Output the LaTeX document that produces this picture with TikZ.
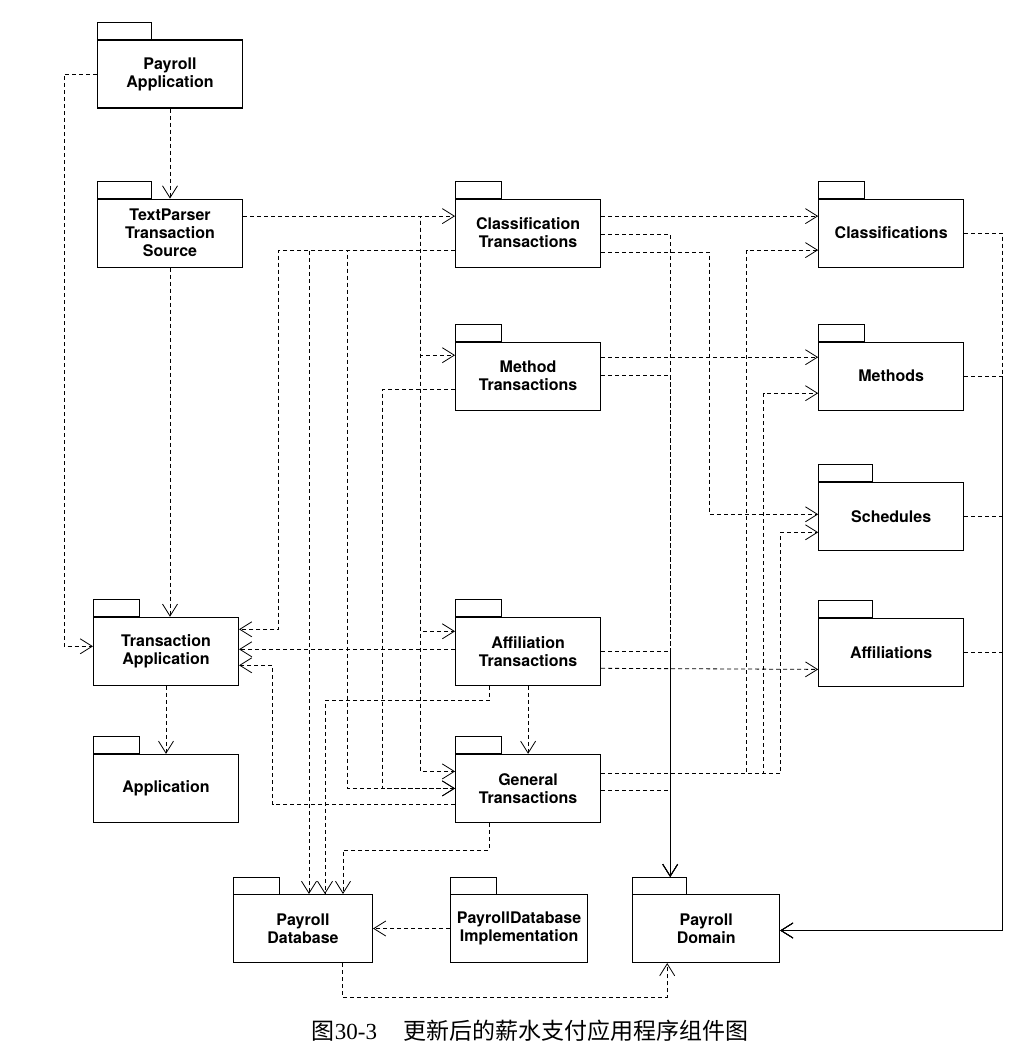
\documentclass[tikz,border=0pt]{standalone}
\usepackage{fontspec}
\setmainfont{TeX Gyre Heros}
\newfontfamily\cjk{Noto Sans CJK SC}
\newfontfamily\capserif{Liberation Serif}
\usetikzlibrary{arrows.meta, positioning}

\begin{document}
\begin{tikzpicture}[
    x=1pt, y=1pt,
    box/.style={rectangle, draw, line width=1.1pt, minimum width=145pt, minimum height=68pt, inner sep=2pt, align=center, font=\fontsize{16}{18}\selectfont\bfseries},
    pkg/.style={box, label={[draw, line width=0.9pt, minimum width=#1, minimum height=17pt, inner sep=0pt, outer sep=0pt, anchor=south west]north west:{}}},
    pkg/.default=46pt,
    dep/.style={draw, line width=0.8pt, dash pattern=on 4pt off 3pt, -{Straight Barb[length=12pt, width=15pt, line width=0.8pt]}}
]
    \path[use as bounding box] (0,0) rectangle (1025,-1053);

    \node[pkg=54pt] (pa) at (170,-74) {Payroll\\Application};
    \node[pkg=54pt, below=90pt of pa] (tps) {TextParser\\Transaction\\Source};
    \node[pkg, right=212pt of tps] (ct) {Classification\\Transactions};
    \node[pkg, right=217pt of ct] (cls) {Classifications};
    \node[pkg, below=74pt of ct] (mt) {Method\\Transactions};
    \node[pkg, below=74pt of cls] (meth) {Methods};
    \node[pkg=54pt, below=71pt of meth] (sch) {Schedules};
    \node[pkg=54pt, below=67pt of sch] (aff) {Affiliations};
    \node[pkg, below=206pt of mt] (at) {Affiliation\\Transactions};
    \node[pkg, left=216pt of at] (ta) {Transaction\\Application};
    \node[pkg, below=68pt of ta] (app) {Application};
    \node[pkg, below=68pt of at] (gt) {General\\Transactions};
    \node[pkg, minimum width=137pt, below=71pt of gt, xshift=-9pt] (pdi) {PayrollDatabase\\Implementation};
    \node[pkg, minimum width=139pt, left=77pt of pdi] (pd) {Payroll\\Database};
    \node[pkg=54pt, minimum width=147pt, right=44pt of pdi] (pdom) {Payroll\\Domain};

    % left column
    \path[dep] (pa.south) -- (tps.north);
    \path[dep] (pa.west) -- ++(-33,0) |- ([yshift=5pt]ta.west);
    \path[dep] (tps.south) -- (tps.south |- ta.north);
    \path[dep] (ta.south) -- (app.north);

    % TextParser to the transaction packages
    \path[dep] ([yshift=17pt]tps.east) -- ([yshift=17pt]ct.west);
    \path[dep] ([yshift=17pt]tps.east) -- ++(177.5,0) |- ([yshift=21pt]mt.west);
    \path[dep] ([yshift=17pt]tps.east) -- ++(177.5,0) |- ([yshift=20pt]at.west);
    \path[dep] ([yshift=17pt]tps.east) -- ++(177.5,0) |- ([yshift=17pt]gt.west);

    % transactions, left side
    \path[dep] ([yshift=-17pt]ct.west) -- ++(-176.5,0) |- ([yshift=22pt]ta.east);
    \path[dep] ([yshift=-17pt]ct.west) -| ([xshift=6pt]pd.north);
    \path[dep] ([yshift=-17pt]ct.west) -- ++(-107.5,0) |- (gt.west);
    \path[dep] ([yshift=-13pt]mt.west) -- ++(-72.5,0) |- (gt.west);
    \path[dep] ([yshift=2pt]at.west) -- ([yshift=2pt]ta.east);
    \path[dep] ([xshift=-39pt]at.south) -- ++(0,-15) -| ([xshift=22pt]pd.north);
    \path[dep] (at.south) -- (gt.north);
    \path[dep] ([yshift=-16pt]gt.west) -- ++(-182.5,0) |- ([yshift=-14pt]ta.east);
    \path[dep] ([xshift=-39pt]gt.south) -- ++(0,-27) -| ([xshift=40pt]pd.north);

    % database
    \path[dep] (pdi.west) -- (pd.east);
    \path[dep] ([xshift=39pt]pd.south) -- ++(0,-34) -| ([xshift=-39pt]pdom.south);

    % transactions, right side
    \path[dep] ([yshift=17pt]ct.east) -- ([yshift=17pt]cls.west);
    \path[dep] ([yshift=-1pt]ct.east) -| ([xshift=-36pt,yshift=17pt]pdom.north);
    \path[dep] ([yshift=-19pt]ct.east) -- ++(108.5,0) |- ([yshift=2pt]sch.west);
    \path[dep] ([yshift=19pt]mt.east) -- ([yshift=19pt]meth.west);
    \path[dep] ([yshift=1pt]mt.east) -| ([xshift=-36pt,yshift=17pt]pdom.north);
    \path[dep] (at.east) -| ([xshift=-36pt,yshift=17pt]pdom.north);
    \path[dep] ([yshift=-17pt]at.east) -- ([yshift=-17pt]aff.west);
    \path[dep] ([yshift=15pt]gt.east) -- ++(145.5,0) |- ([yshift=-17pt]cls.west);
    \path[dep] ([yshift=15pt]gt.east) -- ++(162.5,0) |- ([yshift=-17pt]meth.west);
    \path[dep] ([yshift=15pt]gt.east) -- ++(179.5,0) |- ([yshift=-16pt]sch.west);
    \path[dep] ([yshift=-2pt]gt.east) -| ([xshift=-36pt,yshift=17pt]pdom.north);

    % domain packages to Payroll Domain
    \path[dep] (cls.east) -- ++(38.5,0) |- ([yshift=-2pt]pdom.east);
    \path[dep] (meth.east) -- ++(38.5,0) |- ([yshift=-2pt]pdom.east);
    \path[dep] (sch.east) -- ++(38.5,0) |- ([yshift=-2pt]pdom.east);
    \path[dep] (aff.east) -- ++(38.5,0) |- ([yshift=-2pt]pdom.east);

    \node (caption) at (530,-1031) {\fontsize{23}{26}\selectfont{\cjk 图}{\capserif 30-3}\hspace{26pt}{\cjk 更新后的薪水支付应用程序组件图}};
\end{tikzpicture}
\end{document}
